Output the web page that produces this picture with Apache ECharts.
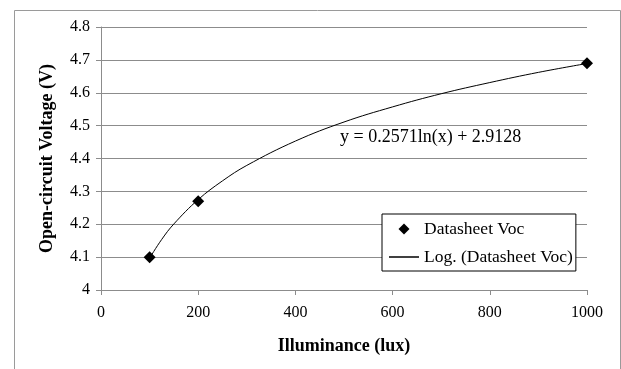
<!DOCTYPE html>
<html>
<head>
<meta charset="utf-8">
<script src="https://cdn.jsdelivr.net/npm/echarts@6/dist/echarts.min.js"></script>
<style>
  html, body { margin: 0; padding: 0; background: #fff; }
  #content { width: 621px; height: 369px; }
</style>
</head>
<body>
<div id="content"></div>
<script>
// 数据
var lux = [100, 200, 1000];
var voc = [4.10, 4.27, 4.69];
// trendline
var trendLux = [100, 125, 150, 200, 250, 300, 400, 500, 600, 700, 800, 900, 1000];
var trendVoc = [4.097, 4.154, 4.201, 4.275, 4.332, 4.379, 4.453, 4.511, 4.557, 4.597, 4.631, 4.662, 4.689];
var xTicks = [0, 200, 400, 600, 800, 1000];
var yTicks = [4, 4.1, 4.2, 4.3, 4.4, 4.5, 4.6, 4.7, 4.8];

var font = "'Liberation Serif', 'Times New Roman', serif";
var gray = "#8c8c8c";

var myChart = echarts.init(document.getElementById("content"));

myChart.setOption({
    backgroundColor: "#fff",
    animation: false,
    grid: { left: 101, right: 34, top: 27, bottom: 79 },
    xAxis: {
        type: "value",
        min: xTicks[0],
        max: xTicks[xTicks.length - 1],
        interval: 200,
        name: "Illuminance (lux)",
        nameLocation: "middle",
        nameGap: 47,
        nameTextStyle: { fontFamily: font, fontSize: 18, fontWeight: "bold", color: "#000" },
        axisLine: { lineStyle: { color: gray } },
        axisTick: { show: true, length: 5, lineStyle: { color: gray } },
        axisLabel: {
            fontFamily: font, fontSize: 16, color: "#000", margin: 15,
            formatter: function(v) { return String(v); }
        },
        splitLine: { show: false }
    },
    yAxis: {
        type: "value",
        min: yTicks[0],
        max: yTicks[yTicks.length - 1],
        interval: 0.1,
        name: "Open-circuit Voltage (V)",
        nameLocation: "middle",
        nameGap: 45,
        nameTextStyle: { fontFamily: font, fontSize: 18, fontWeight: "bold", color: "#000" },
        axisLine: { show: true, lineStyle: { color: gray } },
        axisTick: { show: true, length: 5, lineStyle: { color: gray } },
        axisLabel: { fontFamily: font, fontSize: 16, color: "#000", margin: 11 },
        splitLine: { show: true, lineStyle: { color: gray, width: 1 } }
    },
    legend: {
        orient: "vertical",
        left: 382,
        top: 214,
        padding: [6, 3, 5, 7],
        itemGap: 10,
        itemWidth: 30,
        itemHeight: 11,
        backgroundColor: "#fff",
        borderColor: "#000",
        borderWidth: 1,
        borderRadius: 0,
        textStyle: { fontFamily: font, fontSize: 17.5, color: "#000" },
        data: [
            { name: "Datasheet Voc", icon: "path://M5,0L10,5L5,10L0,5Z" },
            { name: "Log. (Datasheet Voc)", icon: "path://M0,0L30,0L30,1.5L0,1.5Z" }
        ]
    },
    graphic: [
        {
            type: "rect",
            silent: true,
            shape: { x: 14.5, y: 10.5, width: 606, height: 380 },
            style: { fill: null, stroke: "#9a9a9a", lineWidth: 1 }
        },
        {
            type: "text",
            left: 340,
            top: 128,
            style: { text: "y = 0.2571ln(x) + 2.9128", font: "18px " + font, fill: "#000" }
        }
    ],
    series: [
        {
            name: "Log. (Datasheet Voc)",
            type: "line",
            data: trendLux.map(function(x, i) { return [x, trendVoc[i]]; }),
            smooth: 0.4,
            symbol: "none",
            lineStyle: { color: "#000", width: 1 },
            itemStyle: { color: "#000" },
            z: 2
        },
        {
            name: "Datasheet Voc",
            type: "scatter",
            data: lux.map(function(x, i) { return [x, voc[i]]; }),
            symbol: "diamond",
            symbolSize: [12, 12],
            itemStyle: { color: "#000", opacity: 1 },
            z: 3
        }
    ]
});
</script>
</body>
</html>
